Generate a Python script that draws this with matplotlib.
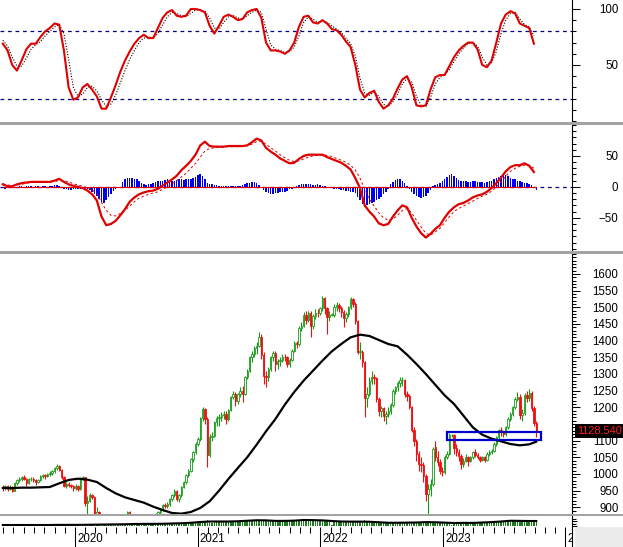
import matplotlib
matplotlib.use("Agg")
import matplotlib.pyplot as plt
import matplotlib.dates as mdates
import matplotlib.transforms as mtransforms
from matplotlib.patches import Rectangle
import numpy as np
import pandas as pd
import datetime as dt

plt.rcParams['font.family'] = ['Liberation Sans', 'DejaVu Sans']
plt.rcParams['font.size'] = 8.3

# ---------------- data (weekly bars) ----------------
first_week = "2019-05-31"

opens = [
    960, 957, 963, 955, 962, 950, 972, 981, 985, 992, 986, 974, 984, 986, 982, 975, 982, 994, 996, 993,
    999, 1004, 1008, 1017, 1024, 1013, 990, 965, 970, 966, 963,
    958, 965, 955, 985, 991, 913, 920, 937, 931, 880, 885, 770, 710, 690, 720, 760, 775, 765, 770, 775,
    825, 860, 865, 885, 860, 875, 830, 858, 862, 848, 818, 790, 812, 860, 858, 878, 885, 893, 906, 905,
    910, 925, 936, 948, 926, 936, 962, 975, 996, 1010, 1044, 1067,
    1090, 1104, 1167, 1194, 1166, 1056, 1110, 1115, 1155, 1168, 1170, 1178, 1181, 1165, 1191, 1232, 1240,
    1218, 1239, 1250, 1241, 1290, 1310, 1350, 1359, 1377, 1384, 1410, 1358, 1295, 1290, 1316, 1350, 1362,
    1329, 1340, 1342, 1352, 1350, 1330, 1342, 1370, 1392, 1389, 1439, 1445, 1476, 1461, 1482, 1444, 1474,
    1484, 1482,
    1498, 1528, 1497, 1472, 1478, 1478, 1501, 1506, 1497, 1486, 1468, 1479, 1500, 1524, 1510, 1458, 1366,
    1366, 1336, 1229, 1240, 1280, 1290, 1288, 1225, 1190, 1198, 1173, 1180, 1190, 1206, 1250, 1260, 1272,
    1281, 1282, 1240, 1235, 1200, 1132, 1100, 1060, 1030, 1028, 994, 941, 956, 971, 1080, 1050, 1035, 1010,
    1007, 1051, 1060, 1117, 1117, 1077, 1065, 1055, 1030, 1040, 1050, 1039, 1050, 1065, 1056, 1050, 1041,
    1050, 1043, 1060, 1066, 1070, 1090, 1110, 1131, 1126, 1120, 1140, 1165, 1180, 1201, 1225, 1232, 1178,
    1182, 1238, 1227, 1243, 1197, 1154,
]
highs = [
    968, 968, 966, 968, 965, 976, 985, 990, 995, 996, 988, 988, 990, 990, 985, 986, 998, 1000, 1000, 1003,
    1008, 1012, 1020, 1030, 1028, 1015, 993, 975, 975, 970, 966,
    970, 968, 990, 995, 991, 935, 942, 940, 933, 900, 890, 790, 720, 725, 765, 785, 780, 775, 785, 830,
    862, 870, 890, 888, 878, 880, 862, 868, 865, 852, 822, 815, 862, 868, 882, 890, 897, 910, 912, 915,
    928, 940, 955, 952, 940, 965, 980, 1000, 1015, 1048, 1070, 1095,
    1110, 1170, 1200, 1197, 1172, 1120, 1125, 1160, 1175, 1180, 1185, 1190, 1188, 1195, 1235, 1250, 1245,
    1242, 1260, 1265, 1295, 1315, 1355, 1370, 1385, 1395, 1425, 1420, 1365, 1310, 1320, 1355, 1370, 1370,
    1345, 1350, 1360, 1360, 1355, 1348, 1375, 1398, 1400, 1445, 1455, 1485, 1490, 1490, 1488, 1480, 1495,
    1495, 1502,
    1535, 1530, 1500, 1490, 1482, 1510, 1515, 1512, 1505, 1492, 1485, 1505, 1530, 1528, 1515, 1462, 1395,
    1372, 1340, 1260, 1290, 1310, 1300, 1292, 1230, 1205, 1200, 1190, 1200, 1212, 1255, 1265, 1280, 1290,
    1292, 1285, 1250, 1240, 1205, 1140, 1105, 1070, 1050, 1035, 1000, 970, 985, 1080, 1100, 1070, 1045, 1020,
    1058, 1068, 1122, 1120, 1120, 1090, 1075, 1060, 1048, 1060, 1055, 1055, 1070, 1075, 1062, 1055, 1055,
    1055, 1065, 1072, 1075, 1095, 1115, 1135, 1140, 1130, 1145, 1170, 1185, 1205, 1230, 1245, 1240, 1195,
    1242, 1250, 1256, 1250, 1205, 1160,
]
lows = [
    950, 953, 950, 952, 945, 948, 968, 976, 980, 982, 965, 970, 978, 975, 968, 972, 980, 988, 985, 990,
    995, 998, 1004, 1012, 1008, 985, 960, 958, 962, 958, 950,
    952, 950, 953, 982, 905, 880, 915, 925, 870, 860, 760, 700, 660, 680, 715, 755, 755, 755, 765, 772,
    820, 850, 860, 850, 850, 825, 825, 850, 842, 810, 770, 780, 808, 850, 855, 872, 880, 888, 898, 898,
    905, 920, 932, 918, 915, 932, 958, 970, 990, 1005, 1035, 1060,
    1085, 1100, 1160, 1150, 1020, 1050, 1100, 1110, 1145, 1145, 1160, 1165, 1150, 1160, 1188, 1225, 1205,
    1210, 1230, 1215, 1238, 1285, 1305, 1335, 1350, 1360, 1380, 1345, 1270, 1260, 1280, 1310, 1340, 1310,
    1315, 1325, 1335, 1340, 1320, 1322, 1338, 1365, 1378, 1385, 1430, 1440, 1450, 1455, 1410, 1435, 1465,
    1470, 1478,
    1490, 1480, 1420, 1460, 1474, 1470, 1490, 1485, 1470, 1440, 1455, 1470, 1495, 1500, 1450, 1360, 1345,
    1320, 1170, 1200, 1235, 1270, 1270, 1215, 1175, 1170, 1160, 1150, 1172, 1180, 1200, 1240, 1250, 1260,
    1265, 1230, 1220, 1195, 1125, 1085, 1040, 1010, 1005, 975, 920, 873, 935, 965, 1040, 1025, 1000, 995,
    1000, 1045, 1058, 1112, 1060, 1055, 1040, 1015, 1020, 1035, 1025, 1035, 1045, 1050, 1045, 1035, 1038,
    1035, 1040, 1055, 1060, 1065, 1085, 1105, 1115, 1110, 1115, 1135, 1160, 1175, 1195, 1218, 1165, 1160,
    1178, 1215, 1220, 1190, 1145, 1110,
]
closes = [
    957, 963, 955, 962, 950, 972, 981, 985, 992, 986, 974, 984, 986, 982, 975, 982, 994, 996, 993, 999,
    1004, 1008, 1017, 1024, 1013, 990, 965, 970, 966, 963, 958,
    965, 955, 985, 991, 913, 920, 937, 931, 880, 885, 770, 710, 690, 720, 760, 775, 765, 770, 775, 825,
    860, 865, 885, 860, 875, 830, 858, 862, 848, 818, 790, 812, 860, 858, 878, 885, 893, 906, 905, 910,
    925, 936, 948, 926, 936, 962, 975, 996, 1010, 1044, 1067, 1090,
    1104, 1167, 1194, 1166, 1056, 1110, 1115, 1155, 1168, 1170, 1178, 1181, 1165, 1191, 1232, 1240, 1218,
    1239, 1250, 1241, 1290, 1310, 1350, 1359, 1377, 1384, 1410, 1358, 1295, 1290, 1316, 1350, 1362, 1329,
    1340, 1342, 1352, 1350, 1330, 1342, 1370, 1392, 1389, 1439, 1445, 1476, 1461, 1482, 1444, 1474, 1484,
    1482, 1498,
    1528, 1497, 1472, 1478, 1478, 1501, 1506, 1497, 1486, 1468, 1479, 1500, 1524, 1510, 1458, 1366, 1366,
    1336, 1229, 1240, 1280, 1290, 1288, 1225, 1190, 1198, 1173, 1180, 1190, 1206, 1250, 1260, 1272, 1281,
    1282, 1240, 1235, 1200, 1132, 1100, 1060, 1030, 1028, 994, 941, 956, 971, 1075, 1050, 1035, 1010, 1007,
    1051, 1060, 1117, 1117, 1077, 1065, 1055, 1030, 1040, 1050, 1039, 1050, 1065, 1056, 1050, 1041, 1050,
    1043, 1060, 1066, 1070, 1090, 1110, 1131, 1126, 1120, 1140, 1165, 1180, 1201, 1225, 1232, 1178, 1182,
    1238, 1227, 1243, 1197, 1154, 1128.54,
]
volumes = [
    7, 8, 7, 8, 7, 8, 8, 9, 8, 8, 7, 8, 8, 7, 7, 8, 9, 8, 8, 8, 9, 9, 10, 10, 9, 9, 8, 8, 8, 8, 7,
    8, 8, 9, 6, 12, 11, 10, 9, 12, 13, 15, 14, 13, 12, 13, 14, 12, 13, 14, 16, 18, 19, 18, 20, 18, 17,
    16, 17, 16, 15, 16, 17, 19, 18, 19, 20, 21, 22, 21, 22, 23, 24, 23, 22, 23, 25, 27, 28, 29, 30, 32, 33,
    35, 38, 40, 38, 45, 36, 25, 33, 34, 35, 36, 37, 34, 36, 38, 37, 35, 36, 38, 37, 40, 42, 45, 48, 50,
    47, 49, 46, 50, 44, 42, 43, 41, 42, 40, 39, 40, 41, 40, 42, 43, 45, 44, 48, 50, 52, 50, 49, 47, 48,
    46, 45, 44,
    48, 45, 44, 42, 10, 38, 36, 34, 35, 36, 33, 34, 35, 33, 34, 40, 38, 36, 45, 40, 35, 33, 30, 28, 27,
    26, 25, 24, 25, 26, 28, 30, 28, 27, 26, 25, 24, 26, 30, 32, 31, 30, 28, 35, 33, 30, 32, 31, 28, 27,
    26, 25,
    24, 25, 30, 8, 28, 27, 26, 25, 24, 25, 26, 27, 26, 25, 24, 23, 25, 26, 27, 28, 30, 32, 34, 33, 32,
    34, 36, 38, 40, 42, 44, 45, 40, 38, 42, 40, 43, 41, 40, 38,
]
# long moving average (every 4th week + last week)
ma_long = [
    958, 958, 959, 959, 960, 961, 972, 982,
    986, 983, 976, 958, 942, 930, 922, 914, 902, 892, 883, 881, 886,
    898, 918, 950, 985, 1018, 1050, 1088, 1128, 1165, 1208, 1246, 1280, 1310,
    1340, 1368, 1390, 1410, 1418, 1414, 1402, 1390, 1383, 1358, 1330, 1300, 1268,
    1236, 1210, 1175, 1140, 1118, 1106, 1098, 1090, 1086, 1089,
    1097,
]
volume_ma = [
    8, 8, 8, 8, 8, 8, 9, 9,
    9, 10, 11, 12, 13, 14, 16, 17, 17, 18, 20, 22, 26,
    32, 36, 36, 36, 38, 42, 46, 45, 41, 41, 43, 48, 47,
    45, 40, 36, 35, 35, 34, 30, 26, 26, 27, 28, 31, 30,
    27, 24, 25, 25, 28, 31, 36, 42, 41, 40,
    40,
]
# oscillators (every 2nd week)
stoch_k = [
    69, 63, 50, 45, 54, 64, 69, 69, 75, 80, 83, 87, 86, 63, 30, 19, 21, 30, 33, 28,
    22, 11, 11, 21, 32, 44, 54, 62, 69, 74, 77, 74, 74, 83, 92, 97, 99, 94, 93, 94,
    100, 100, 99, 97, 85, 78, 85, 93, 95, 93, 90, 91, 97, 99, 100, 92, 70, 63, 63, 62,
    60, 63, 70, 84, 93, 94, 88, 87, 90, 87, 82, 81, 77, 71, 66, 50, 28, 21, 25, 27,
    17, 11, 14, 20, 29, 37, 40, 30, 14, 13, 14, 28, 39, 41, 41, 49, 57, 63, 67, 70,
    70, 64, 50, 48, 54, 70, 87, 95, 98, 96, 87, 85, 83, 69,
]
stoch_d = [
    72, 67, 57, 49, 49, 56, 64, 68, 71, 76, 80, 84, 86, 78, 55, 30, 22, 24, 30, 31,
    27, 19, 13, 15, 23, 34, 45, 55, 63, 70, 74, 75, 74, 78, 86, 93, 97, 96, 94, 93,
    96, 99, 99, 98, 92, 83, 82, 88, 93, 94, 92, 91, 94, 97, 99, 97, 82, 68, 64, 63,
    61, 62, 66, 76, 88, 93, 91, 88, 89, 88, 85, 82, 79, 74, 69, 58, 38, 25, 23, 26,
    22, 15, 13, 17, 24, 33, 38, 35, 22, 14, 13, 21, 33, 39, 41, 46, 53, 60, 65, 69,
    70, 67, 57, 50, 52, 62, 78, 90, 96, 97, 91, 86, 84, 76,
]
macd_line = [
    4, 1, 1, 4, 6, 7, 8, 8, 8, 8, 8, 10, 13, 8, 4, 1.6, 0, -2, -6, -12,
    -22, -48, -62, -60, -55, -46, -36, -24, -17, -12, -9, -7, -6, -3, 2, 7, 12, 18, 27, 34,
    42, 52, 67, 73, 66, 65, 65, 65, 66, 66, 66, 66, 67, 72, 78, 75, 63, 57, 52, 46,
    42, 38, 39, 45, 50, 52, 52, 52, 52, 48, 45, 42, 39, 34, 28, 14, -2, -30, -40, -48,
    -59, -62, -60, -48, -38, -30, -33, -50, -64, -75, -82, -76, -68, -62, -50, -40, -33, -28, -26, -22,
    -17, -14, -12, -8, -2, 6, 15, 25, 32, 35, 35, 38, 34, 24,
]
macd_signal = [
    5, 3, 2, 3, 4, 6, 7, 8, 8, 8, 8, 9, 10, 10, 8, 5, 3, 1, -2, -5,
    -11, -25, -38, -46, -47, -43, -38, -31, -24, -18, -15, -12, -10, -8, -4, 0, 5, 10, 16, 22,
    30, 38, 48, 58, 62, 63, 64, 64, 65, 65, 65, 66, 67, 69, 73, 74, 69, 63, 58, 52,
    47, 43, 41, 42, 45, 48, 50, 51, 52, 51, 49, 46, 43, 40, 35, 27, 14, -4, -20, -31,
    -42, -50, -54, -52, -46, -38, -35, -42, -54, -65, -75, -78, -73, -67, -58, -48, -40, -35, -31, -27,
    -23, -19, -15, -12, -7, 0, 8, 17, 25, 30, 33, 35, 35, 30,
]
macd_hist = [
    -2, -3, -2, -2, -1, -1, 0,
    1, 1, 0, 1, 2, 1, 0, 1, 1, 0, 1, 1, 0, 1, 2,
    3, 3, 1, -1,
    -3, -4, -5, -5, -4, -4, -3, -3,
    -2, -3, -4, -5,
    -8, -12, -15, -20, -24, -26, -22, -17, -11,
    -6, -4, -2, 0,
    8, 12, 15, 15, 14, 13, 12, 9,
    6, 4, 3, 4, 5, 7, 8,
    9, 10, 10, 11, 12, 11, 10, 10, 11, 12, 12, 11, 12, 13, 12, 14,
    16, 19, 20, 18, 12,
    7, 5, 4, 3, 3,
    2, 2, 1, 2, 1, 1, 2, 2, 1, 1, 3,
    5, 6, 7, 8, 8, 6, 3, 0,
    -5, -8, -10, -11, -11, -10, -10, -9, -9, -8, -6, -4,
    -3, -1, 1,
    3, 4, 5, 5, 4, 4, 3, 3, 4, 3, 2, 1,
    -1, -2, -2, -3, -3, -4, -5, -5, -6, -7, -8, -8, -10,
    -16, -22, -28, -32, -30, -27, -26, -24, -22, -20, -16, -12, -8, -3,
    4, 8, 11, 12, 12, 10, 6, 2,
    -3, -8, -12, -15, -17, -18, -17, -14, -10, -5,
    1, 3, 4, 6, 9,
    13, 16, 19, 20, 18, 14,
    11, 10, 9, 9, 8, 8, 9, 9, 8, 8, 8, 7, 8, 9, 10,
    12, 14, 16, 18, 20, 19, 17, 15, 13, 12, 10,
    9, 8, 7, 6, 5,
    3, 0, -5,
]
stoch_levels = [20, 80]
zone_start, zone_end = "2023-01-14", "2023-10-20"
zone_low, zone_high = 1101, 1127
year_labels = [2020, 2021, 2022, 2023, 2024]

# ---------------- figure ----------------
W, H = 623, 547
fig = plt.figure(figsize=(W / 100, H / 100), dpi=100)
fig.patch.set_facecolor('white')


def rect(x0, y0, x1, y1):
    return [x0 / W, 1 - y1 / H, (x1 - x0) / W, (y1 - y0) / H]


dates = pd.date_range(first_week, periods=len(closes), freq="7D")
x = mdates.date2num(dates.to_pydatetime())
d2020 = mdates.date2num(dt.datetime(2020, 1, 1))
px_day = 2.35 / 7.0
xlim = (d2020 - 75 / px_day, d2020 + (572 - 75) / px_day)

ax_k = fig.add_axes(rect(0, 0, 572, 122))
ax_m = fig.add_axes(rect(0, 125, 572, 251))
ax_p = fig.add_axes(rect(0, 254, 572, 515))
ax_v = fig.add_axes(rect(0, 516, 572, 526))
ax_x = fig.add_axes(rect(0, 527, 572, 547))


def right_axis(ax, major, minor, labels=True):
    ax.set_xlim(xlim)
    for s in ('top', 'left', 'bottom'):
        ax.spines[s].set_visible(False)
    ax.spines['right'].set_linewidth(0.8)
    ax.yaxis.tick_right()
    ax.set_yticks(major)
    ax.set_yticks(minor, minor=True)
    ax.tick_params(axis='y', which='major', length=5.8, width=0.75, pad=27.6,
                   labelsize=8.3, labelright=labels, direction='out')
    ax.tick_params(axis='y', which='minor', length=2.9, width=0.75, direction='out')
    ax.tick_params(axis='x', which='both', bottom=False, top=False, labelbottom=False)
    for lab in ax.get_yticklabels():
        lab.set_horizontalalignment('right')


red = '#e00000'
navy = '#00008b'

# ---- stochastic panel ----
ax_k.set_ylim(-0.9, 108)
for lv in stoch_levels:
    ax_k.axhline(lv, color=navy, lw=0.9, ls=(0, (3, 3)), zorder=1)
ax_k.plot(x[::2], stoch_d, color='black', lw=0.8, ls=(0, (1, 1.5)), zorder=2)
ax_k.plot(x[::2], stoch_k, color=red, lw=1.5, zorder=3)
right_axis(ax_k, [50, 100], list(range(0, 101, 10)))

# ---- MACD panel ----
ax_m.set_ylim(-103.7, 99.5)
ax_m.axhline(0, color=navy, lw=0.9, ls=(0, (3, 3)), zorder=1)
ax_m.bar(x, macd_hist, width=4.5, color='#0000ee', zorder=2)
ax_m.hlines(0, x[0], x[-1], color=red, lw=0.8, zorder=2.5)
ax_m.plot(x[::2], macd_signal, color=red, lw=0.7, ls=(0, (2.5, 2.5)), zorder=3)
ax_m.plot(x[::2], macd_line, color=red, lw=1.6, zorder=4)
right_axis(ax_m, [-50, 0, 50], list(range(-100, 101, 10)))

# ---- price panel ----
ax_p.set_ylim(877, 1660)
o = np.array(opens, float)
h = np.array(highs, float)
l = np.array(lows, float)
c = np.array(closes, float)
up = c >= o
green = '#169a16'
wick_col = np.where(up, green, '#ee1111')
ax_p.vlines(x, l, h, colors=wick_col, lw=0.8, zorder=2)
body_low = np.minimum(o, c)
body_h = np.maximum(np.abs(c - o), 1.5)
ax_p.bar(x[up], body_h[up], bottom=body_low[up], width=4.2, facecolor='white',
         edgecolor=green, lw=0.6, zorder=2.2)
ax_p.bar(x[~up], body_h[~up], bottom=body_low[~up], width=4.2, facecolor='#ee1111',
         edgecolor='#ee1111', lw=0.6, zorder=2.2)
ma_x = np.append(x[::4], x[-1])
ax_p.plot(ma_x, ma_long, color='black', lw=1.6, zorder=3)
zs = mdates.date2num(pd.Timestamp(zone_start).to_pydatetime())
ze = mdates.date2num(pd.Timestamp(zone_end).to_pydatetime())
ax_p.add_patch(Rectangle((zs, zone_low), ze - zs, zone_high - zone_low, fill=False,
                         edgecolor='#0000c8', lw=1.6, zorder=4))
right_axis(ax_p, list(range(900, 1601, 50)), list(range(880, 1661, 10)))
# the last-price marker covers the neighbouring axis label, as in the reference
for tick in ax_p.yaxis.get_major_ticks():
    if abs(tick.get_loc() - closes[-1]) < 25:
        tick.label2.set_visible(False)
trans = mtransforms.blended_transform_factory(ax_p.transAxes, ax_p.transData)
ax_p.annotate(f"{closes[-1]:.3f}", xy=(1, closes[-1]), xycoords=trans,
              xytext=(4.0, 0), textcoords='offset points', ha='left', va='center',
              color='#ff2020', fontsize=7.9, annotation_clip=False, zorder=6,
              bbox=dict(boxstyle='square,pad=0.2', fc='black', ec='none'))

# ---- volume strip ----
ax_v.set_ylim(0, 80)
ax_v.bar(x, volumes, width=4.5, color='#1e7a1e', zorder=2)
ax_v.plot(ma_x, volume_ma, color='black', lw=1.5, zorder=3)
right_axis(ax_v, [0, 40], [20, 60], labels=False)
ax_v.tick_params(axis='y', which='major', length=3.5)

# ---- date axis strip ----
ax_x.set_xlim(xlim)
ax_x.set_ylim(0, 1)
for s in ('top', 'left', 'bottom'):
    ax_x.spines[s].set_visible(False)
ax_x.spines['right'].set_linewidth(0.8)
ax_x.set_yticks([])
ax_x.xaxis.set_ticks_position('top')
ax_x.xaxis.set_major_locator(mdates.YearLocator())
ax_x.xaxis.set_minor_locator(mdates.MonthLocator())
ax_x.tick_params(axis='x', which='major', direction='in', length=14.5, width=0.75,
                 labeltop=False, labelbottom=False)
ax_x.tick_params(axis='x', which='minor', direction='in', length=4.3, width=0.75)
lab_trans = mtransforms.blended_transform_factory(ax_x.transData, ax_x.transAxes) + \
    mtransforms.ScaledTranslation(2 / 100, 0, fig.dpi_scale_trans)
for yr in year_labels:
    ax_x.text(mdates.date2num(dt.datetime(yr, 1, 1)), 0.4, str(yr), transform=lab_trans,
              ha='left', va='center', fontsize=8.3, clip_on=True)

# panel separators and corner area
for y0, y1 in [(122, 124.5), (251, 253.5), (514, 516)]:
    fig.add_artist(Rectangle((0, 1 - y1 / H), 1, (y1 - y0) / H, transform=fig.transFigure,
                             facecolor='#a3a3a3', edgecolor='none', zorder=10))
fig.add_artist(Rectangle((575 / W, 0), 1 - 575 / W, 20 / H, transform=fig.transFigure,
                         facecolor='#ececec', edgecolor='none', zorder=10))

fig.savefig('out.png', dpi=100)
